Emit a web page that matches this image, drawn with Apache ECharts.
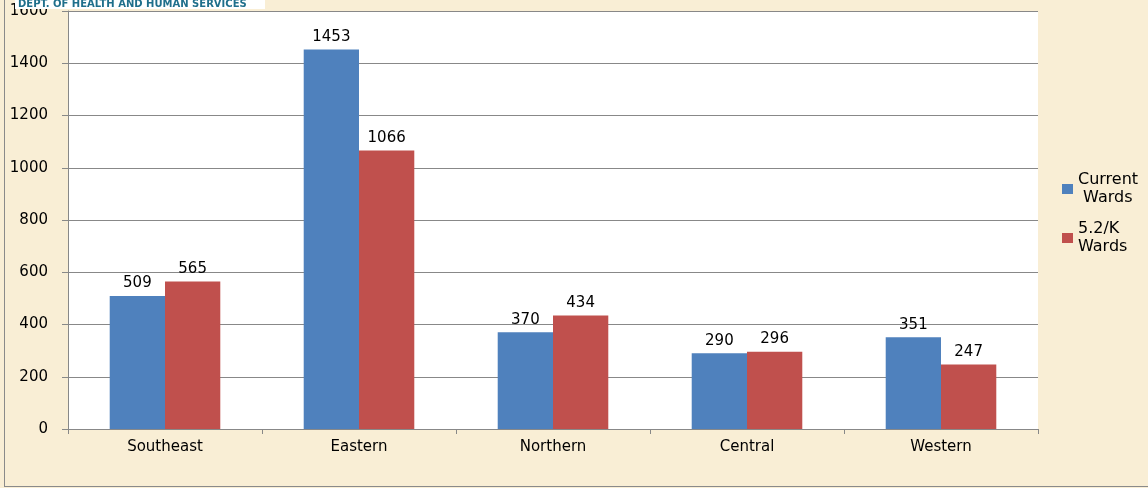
<!DOCTYPE html>
<html>
<head>
<meta charset="utf-8">
<script src="https://cdn.jsdelivr.net/npm/echarts@6/dist/echarts.min.js"></script>
<style>
  html, body { margin: 0; padding: 0; background: #f9eed5; }
  #chart { width: 1148px; height: 488px; }
</style>
</head>
<body>
<div id="chart"></div>
<script>
var regions = ['Southeast', 'Eastern', 'Northern', 'Central', 'Western'];
var currentWards = [509, 1453, 370, 290, 351];
var proposedWards = [565, 1066, 434, 296, 247];
var seriesNames = ['Current\n Wards', '5.2/K\nWards'];
var headerText = 'DEPT. OF HEALTH AND HUMAN SERVICES';

var myChart = echarts.init(document.getElementById('chart'));

var labelStyle = {
  show: true,
  position: 'top',
  color: '#000',
  fontSize: 15,
  fontFamily: 'DejaVu Sans',
  distance: 5
};

var option = {
  backgroundColor: '#f9eed5',
  animation: false,
  graphic: [
    {
      type: 'rect',
      shape: { x: 4, y: 0, width: 1, height: 487 },
      style: { fill: '#8a8a8a' }
    },
    {
      type: 'rect',
      shape: { x: 4, y: 486, width: 1144, height: 1 },
      style: { fill: '#8a8a8a' }
    },
    {
      type: 'rect',
      shape: { x: 15, y: 0, width: 250, height: 9 },
      style: { fill: '#ffffff' },
      z: 100
    },
    {
      type: 'text',
      left: 18,
      top: -1,
      z: 101,
      style: {
        text: headerText,
        fill: '#1f6f8b',
        font: 'bold 10px DejaVu Sans'
      }
    }
  ],
  legend: {
    orient: 'vertical',
    left: 1057,
    top: 166,
    itemWidth: 11,
    itemHeight: 10,
    itemGap: 13,
    icon: 'rect',
    textStyle: { fontSize: 16, color: '#000', fontFamily: 'DejaVu Sans', lineHeight: 18 },
    data: seriesNames
  },
  grid: {
    left: 68,
    right: 110,
    top: 11,
    bottom: 59,
    show: true,
    backgroundColor: '#ffffff',
    borderWidth: 0
  },
  xAxis: {
    type: 'category',
    data: regions,
    axisLine: { show: true, lineStyle: { color: '#888', width: 1 } },
    axisTick: { show: true, length: 5, lineStyle: { color: '#888' } },
    axisLabel: { color: '#000', fontSize: 15, fontFamily: 'DejaVu Sans', margin: 11 }
  },
  yAxis: {
    type: 'value',
    min: 0,
    max: 1600,
    interval: 200,
    axisLine: { show: true, lineStyle: { color: '#888', width: 1 } },
    axisTick: { show: true, length: 6, lineStyle: { color: '#888' } },
    axisLabel: {
      color: '#000',
      fontSize: 15,
      fontFamily: 'DejaVu Sans',
      margin: 20,
      formatter: function (v) { return String(v); }
    },
    splitLine: { show: true, lineStyle: { color: '#888', width: 1 } }
  },
  series: [
    {
      name: seriesNames[0],
      type: 'bar',
      data: currentWards,
      barGap: '0%',
      barCategoryGap: '43%',
      itemStyle: { color: '#4f81bd' },
      label: labelStyle
    },
    {
      name: seriesNames[1],
      type: 'bar',
      data: proposedWards,
      itemStyle: { color: '#c0504d' },
      label: labelStyle
    }
  ]
};

myChart.setOption(option);
</script>
</body>
</html>
